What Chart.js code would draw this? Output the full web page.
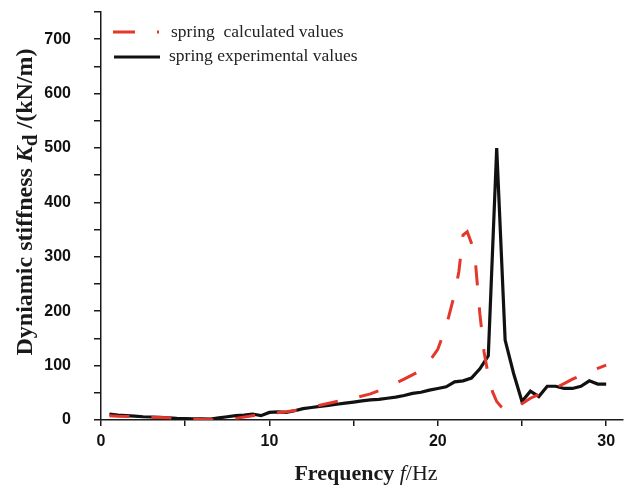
<!DOCTYPE html>
<html>
<head>
<meta charset="utf-8">
<script src="https://cdn.jsdelivr.net/npm/chart.js@4/dist/chart.umd.min.js"></script>
<style>
  body { margin: 0; background: #fff; }
  #wrap { width: 624px; height: 488px; }
</style>
</head>
<body>
<div id="wrap"><canvas id="stiffChart" width="624" height="488"></canvas></div>
<script>
// spring calculated values (red dashed)
const freqCalc = [0.5, 1, 2, 3, 4, 5, 6, 7, 8, 9, 10, 11, 12, 13, 14, 15, 16, 17, 18, 19, 19.5, 20, 20.5, 21, 21.25, 21.5, 21.75, 22, 22.25, 22.5, 22.75, 23, 23.25, 23.5, 23.75, 24, 24.5, 25, 25.5, 26, 26.5, 27, 27.5, 28, 28.5, 29, 29.5, 30];
const kCalc = [8, 7, 6, 5, 4, 2, 1, 0.5, 3, 8, 12, 15, 20, 27, 34, 40, 48, 60, 75, 91, 108, 130, 172, 232, 272, 340, 346, 325, 285, 195, 125, 82, 52, 34, 25, 19, 18, 30, 40, 47, 52, 59, 67, 75, 82, 89, 95, 101];

// spring experimental values (black)
const freqExp = [0.5, 1, 1.5, 2, 2.5, 3, 3.5, 4, 4.5, 5, 5.5, 6, 6.5, 7, 7.5, 8, 8.5, 9, 9.5, 10, 10.5, 11, 11.5, 12, 12.5, 13, 13.5, 14, 14.5, 15, 15.5, 16, 16.5, 17, 17.5, 18, 18.5, 19, 19.5, 20, 20.5, 21, 21.5, 22, 22.5, 23, 23.5, 24, 24.5, 25, 25.5, 26, 26.5, 27, 27.5, 28, 28.5, 29, 29.5, 30];
const kExp = [11, 9, 8, 7, 6, 5.5, 5, 4, 3, 2.5, 2, 2, 1.5, 4, 6, 8, 9, 11, 8, 14, 15, 14, 17, 21, 23, 25, 27, 29, 31, 33, 35, 37, 38, 40, 42, 45, 49, 51, 55, 58, 61, 70, 72, 77, 94, 118, 500, 147, 86, 34, 53, 43, 62, 62, 58, 58, 62, 72, 66, 66];

const legendLabels = ['spring  calculated values', 'spring experimental values'];
const xTickLabels = [0, 10, 20, 30];
const yTickLabels = [0, 100, 200, 300, 400, 500, 600, 700];

const redColor = '#e3372c';
const axisColor = '#1a1a1a';

function toPoints(xs, ys) {
    return xs.map((x, i) => ({ x: x, y: ys[i] }));
}

// titles + legend, drawn by hand for the mixed fonts
const textPlugin = {
    id: 'textPlugin',
    afterDraw(chart) {
        const ctx = chart.ctx;
        ctx.save();
        ctx.fillStyle = '#1a1a1a';
        ctx.textBaseline = 'alphabetic';

        // x axis title
        const xParts = [
            { t: 'Frequency', f: 'bold 22px "Liberation Serif"' },
            { t: ' f', f: 'italic 22px "Liberation Serif"' },
            { t: '/Hz', f: '22px "Liberation Serif"' }
        ];
        let w = 0;
        xParts.forEach(p => { ctx.font = p.f; w += ctx.measureText(p.t).width; });
        let x = 366 - w / 2;
        xParts.forEach(p => {
            ctx.font = p.f;
            ctx.textAlign = 'left';
            ctx.fillText(p.t, x, 480);
            x += ctx.measureText(p.t).width;
        });

        // y axis title, rotated
        const yParts = [
            { t: 'Dyniamic stiffness ', f: 'bold 24px "Liberation Serif"', dy: 0 },
            { t: 'K', f: 'bold italic 24px "Liberation Serif"', dy: 0 },
            { t: 'd', f: 'bold 21px "Liberation Serif"', dy: 5 },
            { t: ' /(kN/m)', f: 'bold 24px "Liberation Serif"', dy: 0 }
        ];
        w = 0;
        yParts.forEach(p => { ctx.font = p.f; w += ctx.measureText(p.t).width; });
        ctx.translate(32, 202);
        ctx.rotate(-Math.PI / 2);
        x = -w / 2;
        yParts.forEach(p => {
            ctx.font = p.f;
            ctx.fillText(p.t, x, p.dy);
            x += ctx.measureText(p.t).width;
        });
        ctx.setTransform(1, 0, 0, 1, 0, 0);

        // legend
        ctx.lineCap = 'butt';
        ctx.lineWidth = 3;
        ctx.strokeStyle = redColor;
        ctx.setLineDash([22, 22]);
        ctx.beginPath();
        ctx.moveTo(113, 32);
        ctx.lineTo(159, 32);
        ctx.stroke();
        ctx.setLineDash([]);
        ctx.strokeStyle = '#111';
        ctx.beginPath();
        ctx.moveTo(114, 57);
        ctx.lineTo(160, 57);
        ctx.stroke();

        ctx.font = '17.5px "Liberation Serif"';
        ctx.textBaseline = 'middle';
        ctx.fillStyle = '#222';
        ctx.fillText(legendLabels[0], 171, 32);
        ctx.fillText(legendLabels[1], 169, 56);
        ctx.restore();
    }
};

new Chart(document.getElementById('stiffChart').getContext('2d'), {
    type: 'line',
    data: {
        datasets: [{
            label: legendLabels[0],
            data: toPoints(freqCalc, kCalc),
            borderColor: redColor,
            borderWidth: 3,
            borderDash: [20, 22],
            pointRadius: 0,
            tension: 0,
            fill: false
        }, {
            label: legendLabels[1],
            data: toPoints(freqExp, kExp),
            borderColor: '#111',
            borderWidth: 3.2,
            pointRadius: 0,
            tension: 0,
            fill: false
        }]
    },
    options: {
        responsive: false,
        animation: false,
        layout: {
            padding: { top: 12, right: 1, left: 0, bottom: 0 }
        },
        plugins: {
            legend: { display: false },
            tooltip: { enabled: false }
        },
        scales: {
            x: {
                type: 'linear',
                min: 0,
                max: 31,
                border: { display: true, color: axisColor, width: 1.5 },
                grid: {
                    display: true,
                    drawOnChartArea: false,
                    drawTicks: true,
                    tickLength: 6,
                    color: axisColor,
                    lineWidth: 1.5
                },
                ticks: {
                    stepSize: 5,
                    includeBounds: false,
                    autoSkip: false,
                    maxRotation: 0,
                    padding: 6,
                    color: '#111',
                    font: { family: '"Liberation Sans"', weight: 'bold', size: 16 },
                    callback: function(value) {
                        return xTickLabels.includes(value) ? value : '';
                    }
                },
                afterFit: function(scale) {
                    scale.height = 68;
                    scale.paddingLeft = 0;
                    scale.paddingRight = 0;
                }
            },
            y: {
                min: 0,
                max: 750,
                border: { display: true, color: axisColor, width: 1.5 },
                grid: {
                    display: true,
                    drawOnChartArea: false,
                    drawTicks: true,
                    tickLength: 7,
                    color: axisColor,
                    lineWidth: 1.5
                },
                ticks: {
                    stepSize: 50,
                    autoSkip: false,
                    padding: 23,
                    color: '#111',
                    font: { family: '"Liberation Sans"', weight: 'bold', size: 16 },
                    callback: function(value) {
                        return yTickLabels.includes(value) ? value : '';
                    }
                },
                afterFit: function(scale) {
                    scale.width = 101;
                    scale.paddingTop = 0;
                    scale.paddingBottom = 0;
                }
            }
        }
    },
    plugins: [textPlugin]
});
</script>
</body>
</html>
